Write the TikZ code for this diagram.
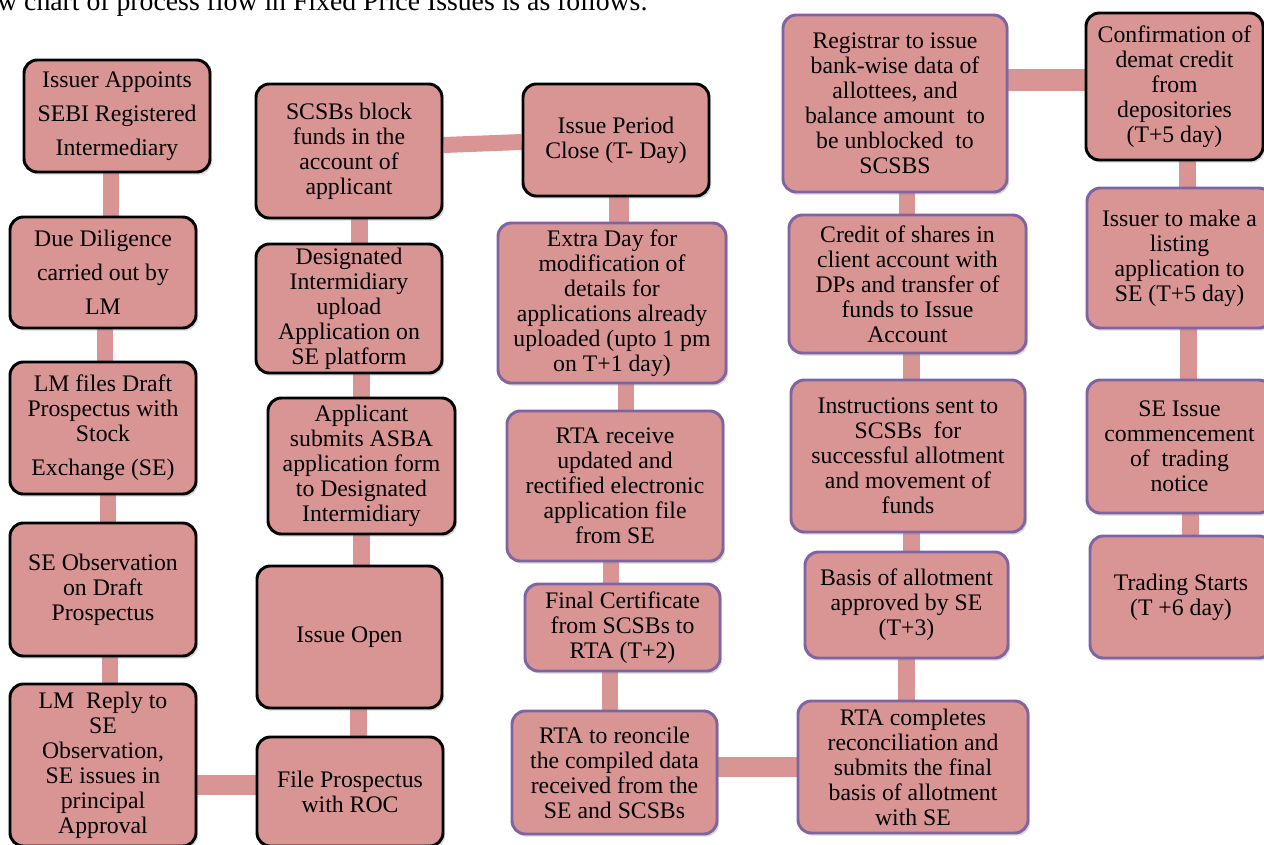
\documentclass[tikz,border=0pt]{standalone}
\usepackage{fontspec}
\setmainfont{Liberation Serif}
\usetikzlibrary{shadows,backgrounds}
\definecolor{boxfill}{HTML}{D99594}
\definecolor{purp}{HTML}{8064A2}
\tikzset{
  base/.style={rounded corners=10pt, fill=boxfill, align=center, inner sep=0pt,
    font=\fontsize{17.8}{18.8}\selectfont,
    drop shadow={shadow xshift=1.5pt, shadow yshift=-2pt, opacity=0.3}},
  blk/.style={base, draw=black, line width=2.2pt},
  prp/.style={base, draw=purp, line width=2.2pt},
  widesp/.style={font=\fontsize{17.8}{25.5}\selectfont},
  conn/.style={draw=boxfill},
}
\newcommand\mybox[7]{%
  \node[#6, minimum width={(#4-#2)*0.75pt}, minimum height={(#5-#3)*0.75pt}] (#1) at ({(#2+#4)/2},{(#3+#5)/2}) {#7};}
\newcommand\vconn[4]{%
  \coordinate (tmp) at (#3,0);
  \draw[conn, line width=#4] (#1.south -| tmp) -- (#2.north -| tmp);}
\newcommand\hconn[4]{%
  \coordinate (tmp) at (0,#3);
  \draw[conn, line width=#4] (#1.east |- tmp) -- (#2.west |- tmp);}
\begin{document}
\begin{tikzpicture}[x=0.75pt, y=-0.75pt]
\useasboundingbox (0,0) rectangle (1264,844);
\node[anchor=base west, inner sep=0pt, font=\fontsize{20.8}{22}\selectfont] (title) at (-3,10) {w chart of process flow in Fixed Price Issues is as follows:};
% column 1
\mybox{A}{24}{60}{210}{172}{blk,widesp}{Issuer Appoints\\SEBI Registered\\Intermediary}
\mybox{B}{10}{217}{196}{328}{blk,widesp}{Due Diligence\\carried out by\\LM}
\mybox{C}{10}{362}{196}{494}{blk}{LM files Draft\\Prospectus with\\Stock\\[6.7pt]Exchange (SE)}
\mybox{D}{10}{523}{196}{656}{blk}{SE Observation\\on Draft\\Prospectus}
\mybox{E}{10}{684}{196}{846}{blk}{LM\ \ Reply to\\SE\\Observation,\\SE issues in\\principal\\Approval}
% column 2
\mybox{F}{257}{737}{443}{846}{blk}{File Prospectus\\with ROC}
\mybox{G}{257}{566}{442}{708}{blk}{Issue Open}
\mybox{H}{268}{398}{455}{534}{blk}{Applicant\\submits ASBA\\application form\\to Designated\\Intermidiary}
\mybox{I}{256}{244}{442}{373}{blk}{Designated\\Intermidiary\\upload\\Application on\\SE platform}
\mybox{J}{256}{84}{442}{218}{blk}{SCSBs block\\funds in the\\account of\\applicant}
% column 3
\mybox{K}{523}{84}{709}{196}{blk}{Issue Period\\Close (T- Day)}
\mybox{L}{498}{223}{726}{383}{prp}{Extra Day for\\modification of\\details for\\applications already\\uploaded (upto 1 pm\\on T+1 day)}
\mybox{M}{507}{411}{723}{561}{prp}{RTA receive\\updated and\\rectified electronic\\application file\\from SE}
\mybox{N}{525}{584}{720}{671}{prp}{Final Certificate\\from SCSBs to\\RTA (T+2)}
\mybox{O}{512}{711}{717}{834}{prp}{RTA to reoncile\\the compiled data\\received from the\\SE and SCSBs}
% column 4
\mybox{P}{798}{701}{1028}{833}{prp}{RTA completes\\reconciliation and\\submits the final\\basis of allotment\\with SE}
\mybox{Q}{805}{552}{1008}{658}{prp}{Basis of allotment\\approved by SE\\(T+3)}
\mybox{R}{791}{380}{1025}{532}{prp}{Instructions sent to\\SCSBs\ \ for\\successful allotment\\and movement of\\funds}
\mybox{S}{789}{215}{1026}{353}{prp}{Credit of shares in\\client account with\\DPs and transfer of\\funds to Issue\\Account}
\mybox{T}{783}{15}{1007}{192}{prp}{Registrar to issue\\bank-wise data of\\allottees, and\\balance amount\ \ to\\be unblocked\ \ to\\SCSBS}
% column 5
\mybox{U}{1086}{13}{1263}{160}{blk}{Confirmation of\\demat credit\\from\\depositories\\(T+5 day)}
\mybox{V}{1087}{188}{1272}{328}{prp}{Issuer to make a\\listing\\application to\\SE (T+5 day)}
\mybox{W}{1087}{380}{1272}{513}{prp}{SE Issue\\commencement\\of\ \ trading\\notice}
\mybox{X}{1090}{536}{1272}{658}{prp}{Trading Starts\\(T +6 day)}
% connectors
\begin{scope}[on background layer]
\vconn{A}{B}{111}{12pt}
\vconn{B}{C}{105}{12pt}
\vconn{C}{D}{108}{12pt}
\vconn{D}{E}{110}{12pt}
\hconn{E}{F}{785}{15pt}
\vconn{G}{F}{358}{12.75pt}
\vconn{H}{G}{361}{12.75pt}
\vconn{I}{H}{361}{12.75pt}
\vconn{J}{I}{359}{12.75pt}
\draw[conn, line width=12pt] ([yshift=4.5pt]J.east) -- ([yshift=-1.5pt]K.west);
\vconn{K}{L}{619}{15pt}
\vconn{L}{M}{626}{12pt}
\vconn{M}{N}{611}{12pt}
\vconn{N}{O}{610}{12pt}
\hconn{O}{P}{767}{15pt}
\vconn{Q}{P}{906}{12.75pt}
\vconn{R}{Q}{911}{12.75pt}
\vconn{S}{R}{911}{12.75pt}
\vconn{T}{S}{907}{12pt}
\hconn{T}{U}{80}{17pt}
\vconn{U}{V}{1187}{12.75pt}
\vconn{V}{W}{1188}{12.75pt}
\vconn{W}{X}{1190}{12.75pt}
\end{scope}
\end{tikzpicture}
\end{document}
